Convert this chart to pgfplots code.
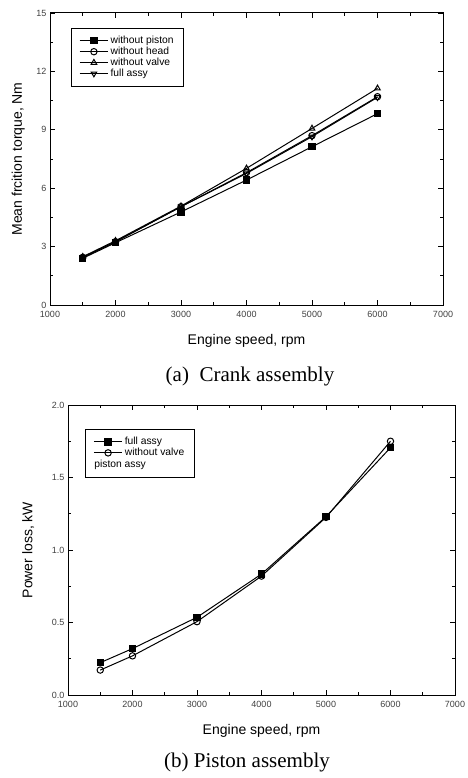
\documentclass[border=0pt]{standalone}
\usepackage{pgfplots}
\pgfplotsset{compat=1.18}
\usepackage{fontspec}
\setmainfont{Liberation Sans}
\newfontfamily\capfont{Liberation Serif}
\pgfplotsset{
  myax/.style={
    scale only axis,
    xmin=1000, xmax=7000,
    xtick={1000,2000,3000,4000,5000,6000,7000},
    minor x tick num=1,
    tick align=inside,
    major tick length=5pt, minor tick length=3pt,
    /pgf/number format/assume math mode=true,
    /pgf/number format/1000 sep={},
    tick label style={font=\fontsize{9}{11}\selectfont, color=black!75},
    xticklabel style={yshift=-3pt},
    label style={font=\fontsize{14}{16}\selectfont},
    axis line style={line width=1pt},
    every tick/.style={black, line width=0.8pt},
    legend cell align=left,
    legend style={font=\fontsize{10.3}{12}\selectfont, draw=black, line width=0.7pt, row sep=-2pt, inner xsep=8pt, inner ysep=6pt},
    legend image code/.code={\draw[mark repeat=2,mark phase=2,##1] plot coordinates {(0cm,0cm) (0.5cm,0cm) (1.0cm,0cm)};},
    every axis plot/.append style={black, line width=1pt, mark size=3.2pt},
  },
}
\begin{document}
\begin{tikzpicture}
\useasboundingbox (0pt,0pt) rectangle (467pt,-778pt);
\begin{axis}[myax,
  anchor=south west, at={(50pt,-305pt)}, width=393pt, height=292pt,
  ymin=0, ymax=15, ytick={0,3,6,9,12,15}, minor y tick num=1,
  xlabel={Engine speed, rpm},
  ylabel={Mean frcition torque, Nm},
  xlabel style={at={(axis description cs:0.5,-0.123)}, anchor=center},
  ylabel style={at={(axis description cs:-0.081,0.5)}, anchor=center},
  legend style={at={(0.053,0.949)}, anchor=north west},
]
\addplot[mark=square*, mark options={fill=black}] coordinates {
 (1500,2.40) (2000,3.20) (3000,4.78) (4000,6.42) (5000,8.13) (6000,9.83)};
\addlegendentry{without piston}
\addplot[mark=o, mark options={fill=white}] coordinates {
 (1500,2.45) (2000,3.25) (3000,5.05) (4000,6.80) (5000,8.70) (6000,10.70)};
\addlegendentry{without head}
\addplot[mark=triangle, mark options={fill=white}] coordinates {
 (1500,2.48) (2000,3.30) (3000,5.08) (4000,7.02) (5000,9.07) (6000,11.13)};
\addlegendentry{without valve}
\addplot[mark=triangle, mark options={fill=white, rotate=180}] coordinates {
 (1500,2.45) (2000,3.25) (3000,5.05) (4000,6.76) (5000,8.65) (6000,10.67)};
\addlegendentry{full assy}
\end{axis}
\node[font=\capfont\fontsize{21}{24}\selectfont] at (250pt,-376pt) {(a)\ \ Crank assembly};
\begin{axis}[myax,
  anchor=south west, at={(68pt,-695pt)}, width=387pt, height=290pt,
  ymin=0, ymax=2, ytick={0,0.5,1,1.5,2}, minor y tick num=1,
  yticklabel style={/pgf/number format/fixed, /pgf/number format/fixed zerofill, /pgf/number format/precision=1},
  xlabel={Engine speed, rpm},
  ylabel={Power loss, kW},
  xlabel style={at={(axis description cs:0.5,-0.124)}, anchor=center},
  ylabel style={at={(axis description cs:-0.103,0.5)}, anchor=center},
  legend style={at={(0.044,0.917)}, anchor=north west},
]
\addplot[mark=square*, mark options={fill=black}] coordinates {
 (1500,0.223) (2000,0.320) (3000,0.536) (4000,0.834) (5000,1.230) (6000,1.706)};
\addlegendentry{full assy}
\addplot[mark=o, mark options={fill=white}] coordinates {
 (1500,0.172) (2000,0.270) (3000,0.506) (4000,0.820) (5000,1.225) (6000,1.750)};
\addlegendentry{without valve}
\addlegendimage{legend image code/.code={\node[overlay, anchor=west, inner sep=0pt, font=\fontsize{10.3}{12}\selectfont] at (0cm,0cm) {piston assy};}}
\addlegendentry{\strut}
\end{axis}
\node[font=\capfont\fontsize{21}{24}\selectfont] at (247pt,-762pt) {(b) Piston assembly};
\end{tikzpicture}
\end{document}
